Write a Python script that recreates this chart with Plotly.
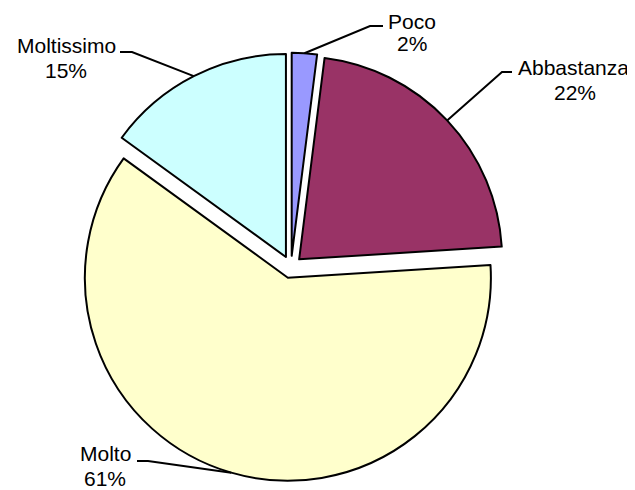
import math
import plotly.graph_objects as go

categories = ["Poco", "Abbastanza", "Molto", "Moltissimo"]
values = [2, 22, 61, 15]
colors = ["#9999FF", "#993366", "#FFFFCC", "#CCFFFF"]

OFF = 8  # page body margin
W, H = 635 - OFF, 490 - OFF
cx, cy, r, pull = 291, 267, 203, 0.055
half = r * (1 + pull)

fig = go.Figure()
fig.add_trace(go.Pie(
    labels=categories, values=values, sort=False, direction="clockwise", rotation=0,
    marker=dict(colors=colors, line=dict(color="black", width=2)),
    pull=[pull] * len(values), textinfo="none", hoverinfo="label+percent",
    showlegend=False,
    domain=dict(x=[(cx - half - OFF) / W, (cx + half - OFF) / W],
                y=[1 - (cy + half - OFF) / H, 1 - (cy - half - OFF) / H]),
))

# label layout in page pixels: (elbow, end of leader, name position, percent position)
label_layout = {
    "Poco": ((370, 26), (383, 26), (412, 21), (412, 43)),
    "Abbastanza": ((502, 72), (512, 72), (573, 67), (575, 92)),
    "Molto": ((148, 461), (137, 461), (105, 453), (105, 478)),
    "Moltissimo": ((132, 52), (120, 52), (66, 45), (66, 70)),
}

total = sum(values)
cum = 0
shapes, annotations = [], []
font = dict(family="Liberation Sans, Arial, sans-serif", size=21, color="black")
for cat, v in zip(categories, values):
    mid = (cum + v / 2) / total * 2 * math.pi
    cum += v
    sx = cx + r * (1 + pull) * math.sin(mid)
    sy = cy - r * (1 + pull) * math.cos(mid)
    elbow, end, npos, ppos = label_layout[cat]
    shapes.append(dict(type="path", xref="x", yref="y",
                       path=f"M {sx},{sy} L {elbow[0]},{elbow[1]} L {end[0]},{end[1]}",
                       line=dict(color="black", width=2)))
    annotations.append(dict(x=npos[0], y=npos[1], xref="x", yref="y", text=cat,
                            showarrow=False, xanchor="center", yanchor="middle", font=font))
    annotations.append(dict(x=ppos[0], y=ppos[1], xref="x", yref="y",
                            text=f"{round(v / total * 100)}%",
                            showarrow=False, xanchor="center", yanchor="middle", font=font))

fig.update_layout(
    width=W, height=H, margin=dict(l=0, r=0, t=0, b=0),
    paper_bgcolor="white", plot_bgcolor="rgba(0,0,0,0)",
    xaxis=dict(range=[OFF, OFF + W], visible=False, fixedrange=True),
    yaxis=dict(range=[OFF + H, OFF], visible=False, fixedrange=True),
    shapes=shapes, annotations=annotations,
)
fig.write_html("out.html")
